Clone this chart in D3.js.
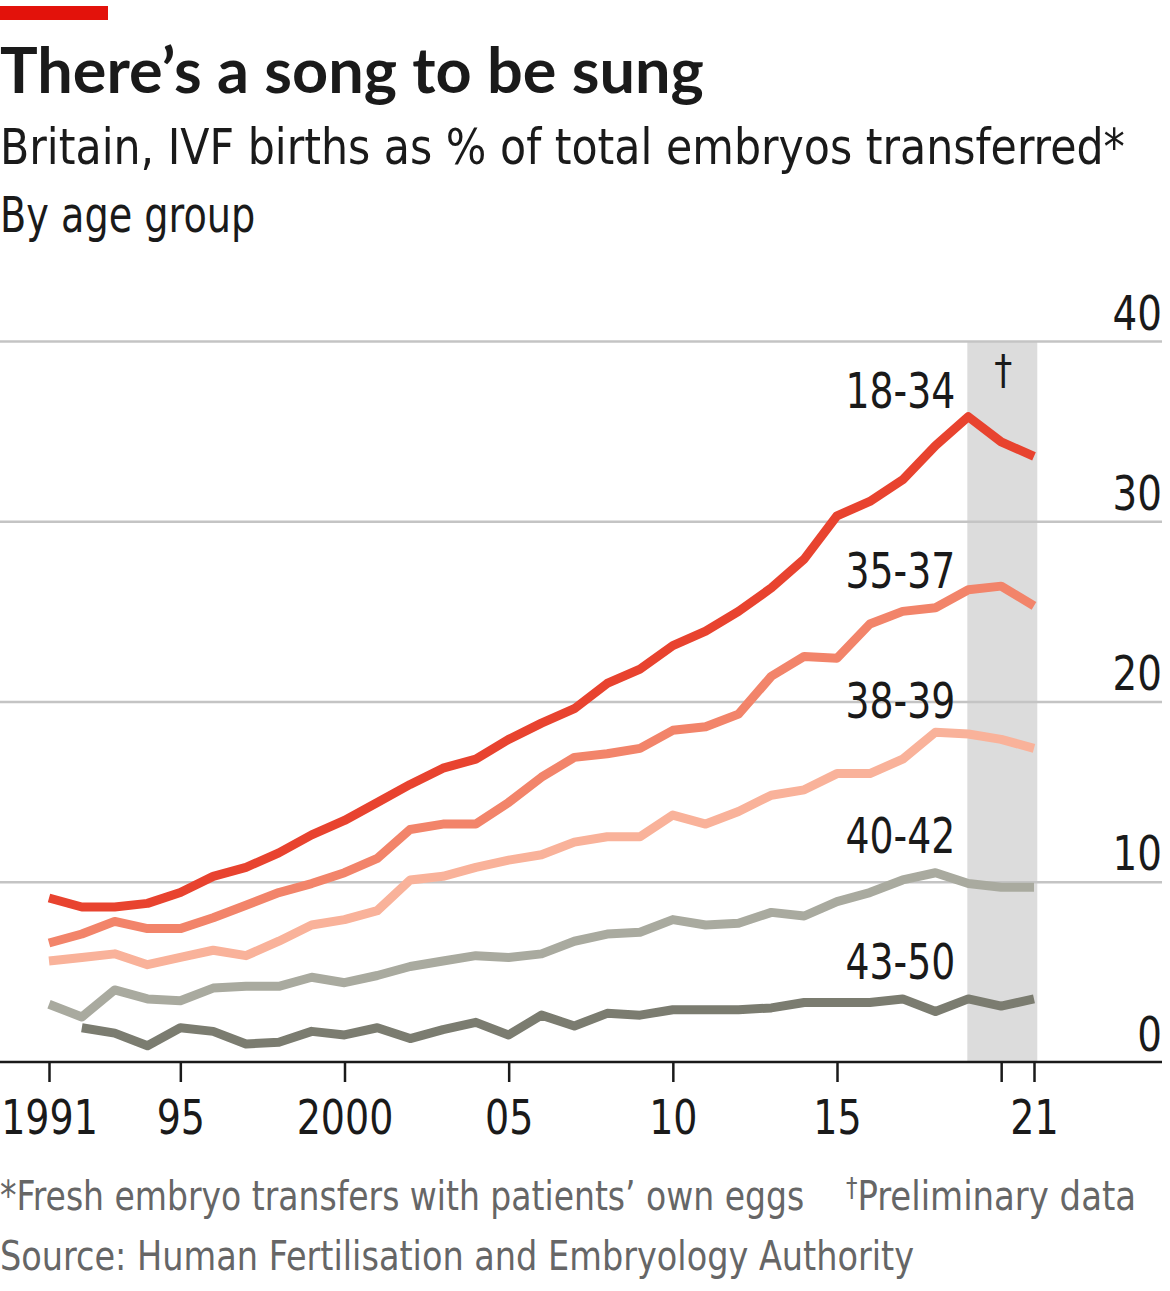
<!DOCTYPE html>
<html>
<head>
<meta charset="utf-8">
<script src="https://cdn.jsdelivr.net/npm/d3@7"></script>
<style>
  body { margin: 0; background: #fff; }
  svg text { font-family: "DejaVu Sans Condensed", "Liberation Sans Narrow", "Open Sans", sans-serif; }
</style>
</head>
<body>
<svg id="chart" width="1170" height="1291"></svg>
<script>
// years 1991-2021
const years = d3.range(1991, 2022);

const age18_34 = [9.1, 8.6, 8.6, 8.8, 9.4, 10.3, 10.8, 11.6, 12.6, 13.4, 14.4, 15.4, 16.3, 16.8, 17.9, 18.8, 19.6, 21.0, 21.8, 23.1, 23.9, 25.0, 26.3, 27.9, 30.3, 31.1, 32.3, 34.2, 35.8, 34.4, 33.6];
const age35_37 = [6.6, 7.1, 7.8, 7.4, 7.4, 8.0, 8.7, 9.4, 9.9, 10.5, 11.3, 12.9, 13.2, 13.2, 14.4, 15.8, 16.9, 17.1, 17.4, 18.4, 18.6, 19.3, 21.4, 22.5, 22.4, 24.3, 25.0, 25.2, 26.2, 26.4, 25.3];
const age38_39 = [5.6, 5.8, 6.0, 5.4, 5.8, 6.2, 5.9, 6.7, 7.6, 7.9, 8.4, 10.1, 10.3, 10.8, 11.2, 11.5, 12.2, 12.5, 12.5, 13.7, 13.2, 13.9, 14.8, 15.1, 16.0, 16.0, 16.8, 18.3, 18.2, 17.9, 17.4];
const age40_42 = [3.2, 2.5, 4.0, 3.5, 3.4, 4.1, 4.2, 4.2, 4.7, 4.4, 4.8, 5.3, 5.6, 5.9, 5.8, 6.0, 6.7, 7.1, 7.2, 7.9, 7.6, 7.7, 8.3, 8.1, 8.9, 9.4, 10.1, 10.5, 9.9, 9.7, 9.7];
// no figure for 1991
const age43_50 = [null, 1.9, 1.6, 0.9, 1.9, 1.7, 1.0, 1.1, 1.7, 1.5, 1.9, 1.3, 1.8, 2.2, 1.5, 2.6, 2.0, 2.7, 2.6, 2.9, 2.9, 2.9, 3.0, 3.3, 3.3, 3.3, 3.5, 2.8, 3.5, 3.1, 3.5];

const seriesNames = ["43-50", "40-42", "38-39", "35-37", "18-34"];
const seriesValues = [age43_50, age40_42, age38_39, age35_37, age18_34];
const seriesColors = ["#7b7c70", "#a9aa9f", "#f9b29a", "#f2846a", "#e8432f"];
// where each label sits (year, value); right edge of the text
const labelAt = [[2018.6, 4.6], [2018.6, 11.6], [2018.6, 19.1], [2018.6, 26.3], [2018.6, 36.3]];

const yTicks = [0, 10, 20, 30, 40];
const xTicks = [1991, 1995, 2000, 2005, 2010, 2015, 2020, 2021];
const xTickLabels = {1991: "1991", 1995: "95", 2000: "2000", 2005: "05", 2010: "10", 2015: "15", 2021: "21"};
const prelimStart = 2019, prelimEnd = 2021.1;

const svg = d3.select("#chart");

// squeeze text horizontally so it reads like the condensed original
function narrow(sel, k) {
  sel.each(function() {
    const t = d3.select(this);
    const tx = +t.attr("x") || 0, ty = +t.attr("y") || 0;
    t.attr("transform", `translate(${tx},${ty}) scale(${k},1)`).attr("x", 0).attr("y", 0);
  });
}

// header
svg.append("rect").attr("x", 0).attr("y", 6).attr("width", 108).attr("height", 14).attr("fill", "#e3120b");
svg.append("text").attr("x", 0).attr("y", 93).attr("font-size", 63).attr("font-weight", "bold")
   .attr("fill", "#1a1a1a").style("font-family", "'Lato', 'Open Sans', sans-serif")
   .text("There’s a song to be sung");
svg.append("text").attr("x", 0).attr("y", 164).attr("font-size", 50).attr("fill", "#1a1a1a")
   .text("Britain, IVF births as % of total embryos transferred*").call(narrow, 0.95);
svg.append("text").attr("x", 0).attr("y", 232).attr("font-size", 50).attr("fill", "#1a1a1a")
   .text("By age group").call(narrow, 0.85);

const x = d3.scaleLinear().domain([1991, 2021]).range([49, 1034]);
const y = d3.scaleLinear().domain([0, 40]).range([1062, 341]);

// preliminary shading
svg.append("rect")
   .attr("x", x(prelimStart) - 1).attr("y", y(40))
   .attr("width", x(prelimEnd) - x(prelimStart) + 1).attr("height", y(0) - y(40))
   .attr("fill", "#dcdcdc");
svg.append("text").attr("x", (x(prelimStart) + x(2021)) / 2 + 2).attr("y", y(37.6))
   .attr("text-anchor", "middle").attr("font-size", 40).attr("fill", "#1a1a1a").text("†");

// grid + y labels
const yAxis = d3.axisRight(y).tickValues(yTicks).tickSize(1162).tickFormat(d => d);
const gy = svg.append("g").call(yAxis);
gy.select(".domain").remove();
gy.selectAll(".tick line").attr("stroke", "#c4c4c4").attr("stroke-width", 2.5);
gy.selectAll(".tick line").filter(d => d === 0).remove();
gy.selectAll(".tick text").attr("x", 1162).attr("dy", null).attr("y", -12).attr("text-anchor", "end")
  .attr("font-size", 48).attr("fill", "#1a1a1a").call(narrow, 0.9);

// lines
const line = d3.line()
   .defined(d => d[1] != null)
   .x(d => x(d[0])).y(d => y(d[1]));

seriesValues.forEach((vals, i) => {
  svg.append("path")
     .datum(years.map((yr, j) => [yr, vals[j]]))
     .attr("d", line)
     .attr("fill", "none")
     .attr("stroke", seriesColors[i])
     .attr("stroke-width", 9)
     .attr("stroke-linejoin", "round");
  svg.append("text")
     .attr("x", x(labelAt[i][0])).attr("y", y(labelAt[i][1]))
     .attr("text-anchor", "end").attr("font-size", 50).attr("fill", "#1a1a1a")
     .text(seriesNames[i]).call(narrow, 0.84);
});

// x axis
const xAxis = d3.axisBottom(x).tickValues(xTicks).tickSize(20).tickFormat(d => xTickLabels[d] || "");
const gx = svg.append("g").attr("transform", `translate(0,${y(0)})`).call(xAxis);
gx.select(".domain").remove();
gx.selectAll(".tick line").attr("stroke", "#1a1a1a").attr("stroke-width", 2.5);
gx.selectAll(".tick text").attr("font-size", 48).attr("fill", "#1a1a1a").attr("dy", null).attr("y", 72)
  .attr("x", 0).call(narrow, 0.88);
svg.append("line").attr("x1", 0).attr("x2", 1162).attr("y1", y(0)).attr("y2", y(0))
   .attr("stroke", "#1a1a1a").attr("stroke-width", 2.5);

// footnotes
svg.append("text").attr("x", 0).attr("y", 1210).attr("font-size", 40).attr("fill", "#666")
   .text("*Fresh embryo transfers with patients’ own eggs").call(narrow, 0.918);
const pre = svg.append("text").attr("x", 846).attr("y", 1210).attr("font-size", 40).attr("fill", "#666");
pre.append("tspan").attr("font-size", 27).attr("dy", -13).text("†");
pre.append("tspan").attr("dy", 13).text("Preliminary data");
pre.call(narrow, 0.943);
svg.append("text").attr("x", 0).attr("y", 1270).attr("font-size", 40).attr("fill", "#666")
   .text("Source: Human Fertilisation and Embryology Authority").call(narrow, 0.932);
</script>
</body>
</html>
